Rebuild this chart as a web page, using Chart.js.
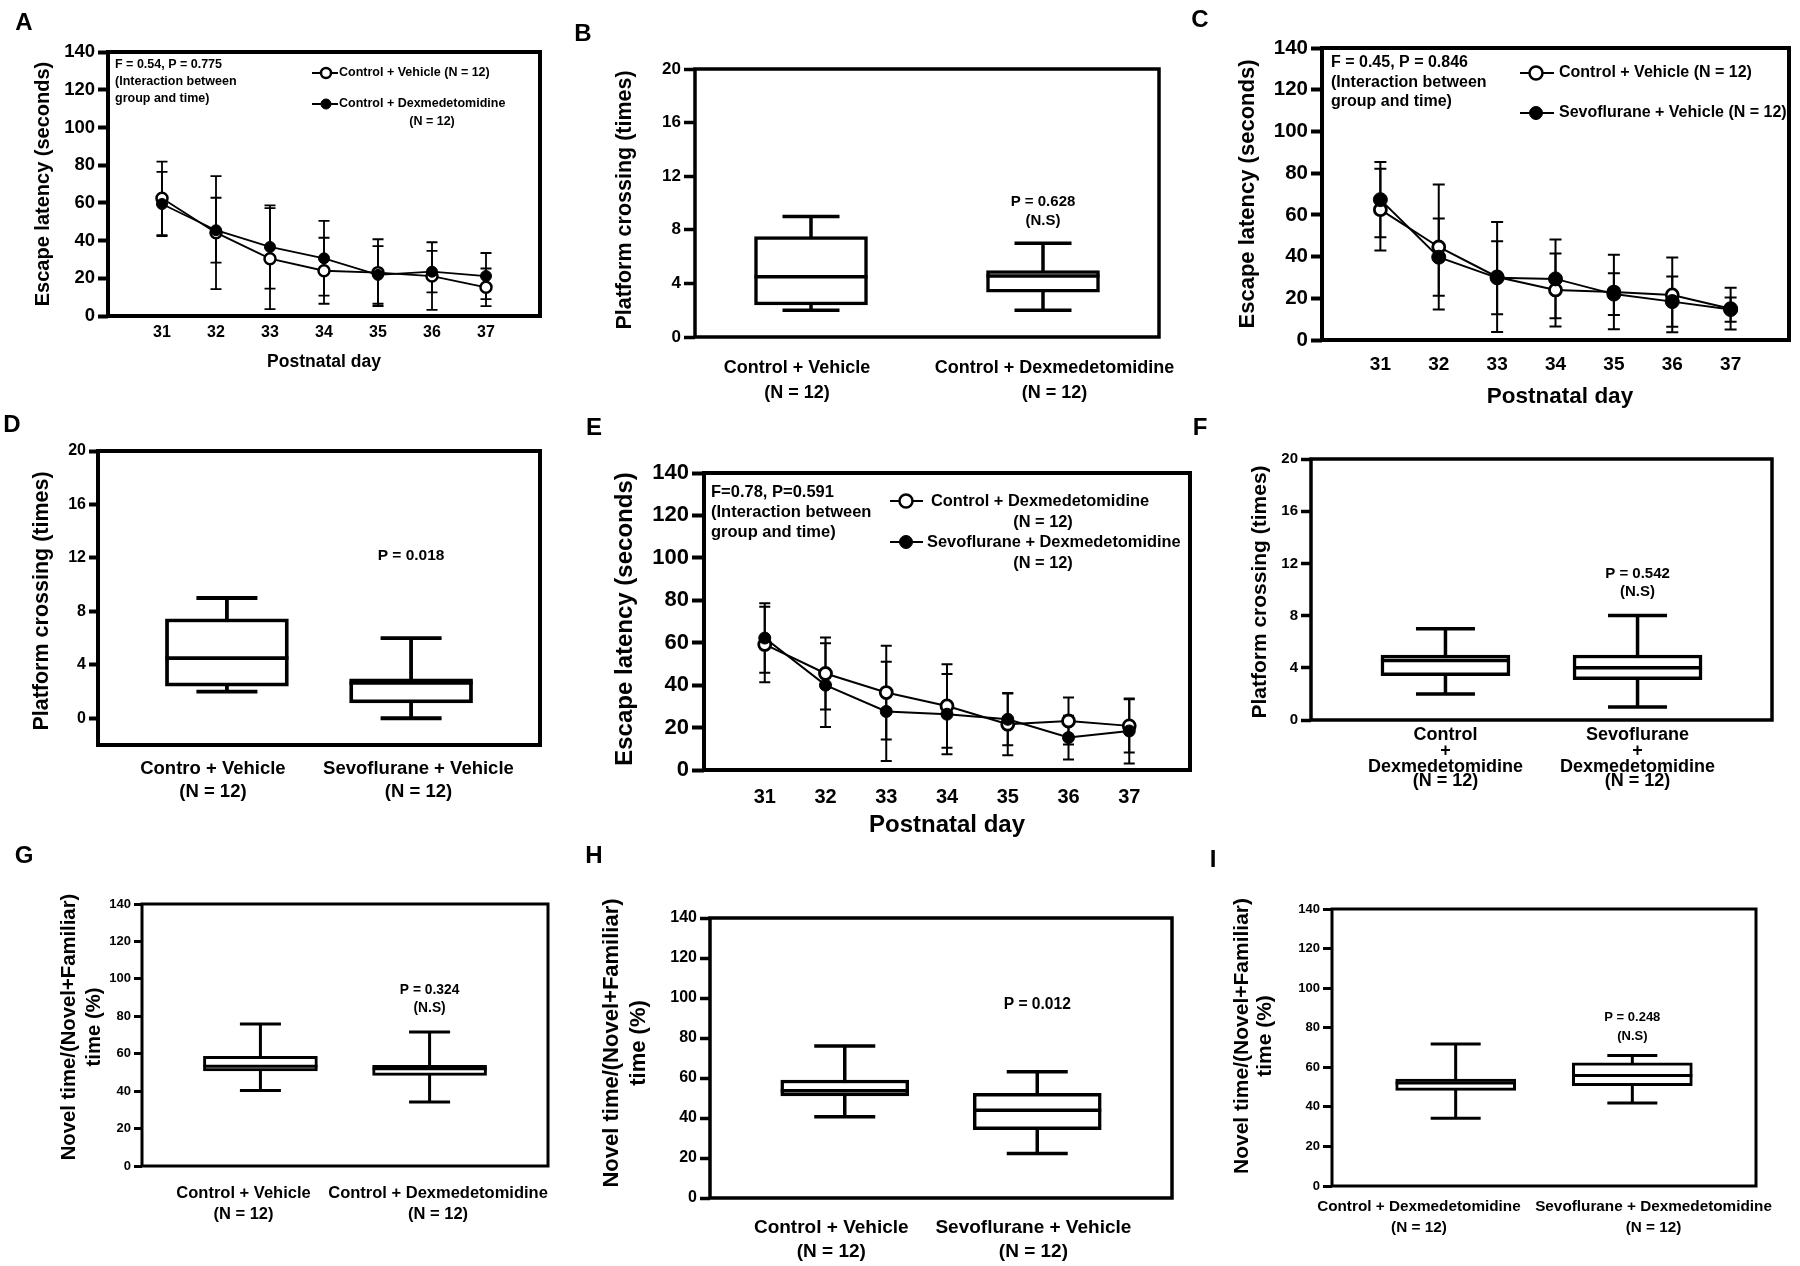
<!DOCTYPE html>
<html>
<head>
  <meta charset="utf-8">
  <title>Water maze and novel object tests</title>
  <script src="https://cdn.jsdelivr.net/npm/chart.js@4.4.1/dist/chart.umd.min.js"></script>
  <style>
    body { margin: 0; background: #fff; }
    #page { position: relative; width: 1800px; height: 1266px; overflow: hidden; background: #fff; }
    #page canvas { position: absolute; left: 0; top: 0; }
  </style>
</head>
<body>
<div id="page">
  <canvas id="cA" width="1800" height="1266"></canvas>
  <canvas id="cB" width="1800" height="1266"></canvas>
  <canvas id="cC" width="1800" height="1266"></canvas>
  <canvas id="cD" width="1800" height="1266"></canvas>
  <canvas id="cE" width="1800" height="1266"></canvas>
  <canvas id="cF" width="1800" height="1266"></canvas>
  <canvas id="cG" width="1800" height="1266"></canvas>
  <canvas id="cH" width="1800" height="1266"></canvas>
  <canvas id="cI" width="1800" height="1266"></canvas>
</div>

<script>
  // ---- data ----
  const days = [31, 32, 33, 34, 35, 36, 37];
  const latencyTicks = [0, 20, 40, 60, 80, 100, 120, 140];
  const crossingTicks = [0, 4, 8, 12, 16, 20];
  const novelTicks = [0, 20, 40, 60, 80, 100, 120, 140];

  // A: control + vehicle vs control + dexmedetomidine (mean, SD)
  const aVehMean = [62.4, 44.2, 30.4, 24.0, 23.0, 21.2, 15.2];
  const aVehSd   = [19.5, 30.0, 26.8, 17.5, 17.7, 17.9, 10.0];
  const aDexMean = [59.4, 45.5, 36.6, 30.6, 21.8, 23.5, 21.2];
  const aDexSd   = [17.0, 17.2, 22.1, 19.8, 15.3, 11.0, 12.2];

  // C: control + vehicle vs sevoflurane + vehicle
  const cVehMean = [62.5, 44.6, 30.2, 24.0, 23.0, 21.6, 15.0];
  const cVehSd   = [19.6, 30.0, 26.4, 17.5, 17.9, 17.9, 10.0];
  const cSevMean = [67.3, 39.7, 29.8, 29.3, 22.0, 18.4, 14.6];
  const cSevSd   = [18.0, 18.5, 17.5, 18.9, 10.0, 12.0, 5.8];

  // E: control + dexmedetomidine vs sevoflurane + dexmedetomidine
  const eDexMean    = [59.2, 45.5, 36.5, 30.2, 21.6, 23.1, 20.8];
  const eDexSd      = [17.8, 17.0, 22.1, 19.7, 14.7, 11.1, 12.6];
  const eSevDexMean = [62.2, 40.0, 27.6, 26.3, 23.9, 15.3, 18.4];
  const eSevDexSd   = [16.4, 19.7, 23.4, 18.9, 12.2, 10.3, 15.3];

  // box plots: min, Q1, median, Q3, max
  const bGroups = ['Control + Vehicle', 'Control + Dexmedetomidine'];
  const bMin = [2, 2], bQ1 = [2.4, 3.35], bMed = [4.5, 4.55], bQ3 = [7.5, 4.95], bMax = [9, 7];

  const dGroups = ['Contro + Vehicle', 'Sevoflurane + Vehicle'];
  const dMin = [2, 0], dQ1 = [2.4, 1.15], dMed = [4.5, 2.65], dQ3 = [7.45, 2.95], dMax = [9, 6];

  const fGroups = [['Control', '+', 'Dexmedetomidine'], ['Sevoflurane', '+', 'Dexmedetomidine']];
  const fMin = [2, 1], fQ1 = [3.4, 3.1], fMed = [4.55, 4.0], fQ3 = [4.98, 4.98], fMax = [7, 8];

  const gGroups = ['Control + Vehicle', 'Control + Dexmedetomidine'];
  const gMin = [40.4, 34.2], gQ1 = [50.8, 48.4], gMed = [53.3, 52.0], gQ3 = [58.6, 53.8], gMax = [75.9, 71.6];

  const hGroups = ['Control + Vehicle', 'Sevoflurane + Vehicle'];
  const hMin = [40.6, 22.2], hQ1 = [51.0, 34.2], hMed = [53.6, 43.9], hQ3 = [59.0, 52.3], hMax = [76.0, 63.1];

  const iGroups = ['Control + Dexmedetomidine', 'Sevoflurane + Dexmedetomidine'];
  const iMin = [34.2, 41.9], iQ1 = [48.3, 50.7], iMed = [52.1, 55.8], iQ3 = [54.1, 62.2], iMax = [71.8, 65.9];

  const nLabel = '(N = 12)';

  // ---- drawing helpers ----
  const FONT = "'Liberation Sans', Arial, Helvetica, sans-serif";
  const W = 1800, H = 1266;
  const Y_BOX = 70, X_BOX = 60;   // room kept for the tick labels
  const decoById = {};

  function say(ctx, s, x, y, size, align, rot) {
    ctx.save();
    ctx.translate(x, y);
    if (rot) ctx.rotate(rot);
    ctx.font = 'bold ' + size + 'px ' + FONT;
    ctx.textAlign = align || 'center';
    ctx.textBaseline = 'middle';
    ctx.fillStyle = '#000';
    ctx.fillText(s, 0, 0);
    ctx.restore();
  }

  function dot(ctx, x, y, r, filled, lw) {
    ctx.beginPath();
    ctx.arc(x, y, r, 0, Math.PI * 2);
    ctx.fillStyle = filled ? '#000' : '#fff';
    ctx.fill();
    ctx.lineWidth = lw;
    ctx.strokeStyle = '#000';
    ctx.stroke();
  }

  const deco = {
    id: 'deco',
    beforeDatasetsDraw(chart) {
      const o = decoById[chart.canvas.id];
      const ctx = chart.ctx, sx = chart.scales.x, sy = chart.scales.y;
      ctx.save();
      ctx.strokeStyle = '#000';
      (o.errors || []).forEach(e => {
        ctx.lineWidth = e.lw;
        e.mean.forEach((m, i) => {
          const px = sx.getPixelForValue(days[i]);
          const hi = sy.getPixelForValue(m + e.sd[i]);
          const lo = sy.getPixelForValue(m - e.sd[i]);
          ctx.beginPath();
          ctx.moveTo(px, hi); ctx.lineTo(px, lo);
          ctx.moveTo(px - e.cap, hi); ctx.lineTo(px + e.cap, hi);
          ctx.moveTo(px - e.cap, lo); ctx.lineTo(px + e.cap, lo);
          ctx.stroke();
        });
      });
      if (o.box) {
        const b = o.box;
        ctx.lineWidth = b.lw;
        b.min.forEach((mn, i) => {
          const px = sx.getPixelForValue(i);
          const top = sy.getPixelForValue(b.max[i]), bot = sy.getPixelForValue(mn);
          ctx.beginPath();
          ctx.moveTo(px, top); ctx.lineTo(px, bot);
          ctx.moveTo(px - b.cap / 2, top); ctx.lineTo(px + b.cap / 2, top);
          ctx.moveTo(px - b.cap / 2, bot); ctx.lineTo(px + b.cap / 2, bot);
          ctx.stroke();
        });
      }
      ctx.restore();
    },
    afterDatasetsDraw(chart) {
      const o = decoById[chart.canvas.id];
      if (!o.box) return;
      const ctx = chart.ctx, sx = chart.scales.x, sy = chart.scales.y, b = o.box;
      ctx.save();
      ctx.strokeStyle = '#000';
      ctx.lineWidth = b.lw;
      b.med.forEach((m, i) => {
        const px = sx.getPixelForValue(i), py = sy.getPixelForValue(m);
        ctx.beginPath();
        ctx.moveTo(px - b.width / 2, py); ctx.lineTo(px + b.width / 2, py);
        ctx.stroke();
      });
      ctx.restore();
    },
    afterDraw(chart) {
      const o = decoById[chart.canvas.id];
      const ctx = chart.ctx, a = chart.chartArea, sx = chart.scales.x, sy = chart.scales.y;
      ctx.save();
      ctx.strokeStyle = '#000';
      ctx.lineWidth = o.frameW;
      ctx.strokeRect(a.left, a.top, a.right - a.left, a.bottom - a.top);

      say(ctx, o.letter[0], o.letter[1], o.letter[2], 24, 'center');
      o.yTitle.lines.forEach((s, k) => say(ctx, s, o.yTitle.x[k], o.yTitle.y, o.yTitle.size, 'center', -Math.PI / 2));
      if (o.xTitle) say(ctx, o.xTitle[0], o.xTitle[1], o.xTitle[2], o.xTitle[3], 'center');
      (o.texts || []).forEach(t => say(ctx, t[0], t[1], t[2], t[3], t[4] || 'left'));
      (o.dataTexts || []).forEach(t => say(ctx, t[0], sx.getPixelForValue(t[1]), sy.getPixelForValue(t[2]), t[3], 'center'));
      (o.legend || []).forEach(l => {
        ctx.lineWidth = 2;
        ctx.strokeStyle = '#000';
        ctx.beginPath(); ctx.moveTo(l.x1, l.y); ctx.lineTo(l.x2, l.y); ctx.stroke();
        dot(ctx, l.mx, l.y, l.r, l.filled, l.filled ? 1 : 2.5);
        say(ctx, l.text, l.tx, l.y, l.size, 'left');
      });
      if (o.cats) {
        o.cats.lines.forEach((lines, i) => {
          const px = sx.getPixelForValue(o.cats.x[i]);
          lines.forEach((s, k) => say(ctx, s, px, o.cats.y[k], o.cats.size, 'center'));
        });
      }
      ctx.restore();
    }
  };
  Chart.register(deco);

  function baseOptions(frame, yMin, yMax, yTicks, yFont, tickLen, frameW) {
    return {
      responsive: false, animation: false, events: [],
      layout: { padding: { left: frame[0] - Y_BOX, top: frame[1], right: W - frame[2], bottom: H - frame[3] } },
      plugins: { legend: { display: false }, tooltip: { enabled: false } },
      scales: {
        y: {
          min: yMin, max: yMax,
          afterFit: s => { s.width = Y_BOX; },
          afterBuildTicks: s => { s.ticks = yTicks.map(v => ({ value: v })); },
          grid: { drawOnChartArea: false, tickLength: tickLen, tickWidth: frameW, tickColor: '#000', color: '#000' },
          border: { display: false },
          ticks: { color: '#000', padding: 3, autoSkip: false, font: { family: FONT, size: yFont, weight: 'bold' } }
        }
      }
    };
  }

  function linePanel(id, frame, s) {
    const opts = baseOptions(frame, 0, 140, latencyTicks, s.yFont, s.tickLen, s.frameW);
    opts.layout.padding.bottom = H - frame[3] - X_BOX;
    opts.scales.x = {
      type: 'linear', min: 30, max: 38, offset: false,
      afterFit: sc => { sc.height = X_BOX; },
      afterBuildTicks: sc => { sc.ticks = days.map(v => ({ value: v })); },
      grid: { display: false, drawTicks: false },
      border: { display: false },
      ticks: { color: '#000', padding: s.xPad, autoSkip: false, maxRotation: 0, font: { family: FONT, size: s.xFont, weight: 'bold' } }
    };
    const mk = (mean, filled) => ({
      data: days.map((d, i) => ({ x: d, y: mean[i] })),
      borderColor: '#000', borderWidth: s.lineW, tension: 0,
      pointRadius: filled ? s.rf : s.r, pointBackgroundColor: filled ? '#000' : '#fff',
      pointBorderColor: '#000', pointBorderWidth: filled ? 1 : s.ring
    });
    decoById[id] = s.deco;
    return new Chart(document.getElementById(id), {
      type: 'line',
      data: { datasets: [mk(s.fillMean, true), mk(s.openMean, false)] },
      options: opts
    });
  }

  function boxPanel(id, frame, s) {
    const opts = baseOptions(frame, s.yMin, s.yMax, s.yTicks, s.yFont, s.tickLen, s.frameW);
    opts.scales.x = { type: 'linear', display: false, offset: false, min: s.xRange[0], max: s.xRange[1] };
    s.deco.box = { min: s.min, med: s.med, max: s.max, lw: s.lw, cap: s.cap, width: s.boxW };
    decoById[id] = s.deco;
    return new Chart(document.getElementById(id), {
      type: 'bar',
      data: { datasets: [{
        data: s.q1.map((q, i) => ({ x: i, y: [q, s.q3[i]] })),
        backgroundColor: '#fff', borderColor: '#000', borderWidth: s.lw,
        borderSkipped: false, barThickness: s.boxW
      }] },
      options: opts
    });
  }

  const latTitle = ['Escape latency (seconds)'];
  const crossTitle = ['Platform crossing (times)'];
  const novelTitle = ['Novel time/(Novel+Familiar)', 'time (%)'];
  const interaction = ['(Interaction between', 'group and time)'];

  // ---- A ----
  linePanel('cA', [108, 52, 540, 316], {
    openMean: aVehMean, fillMean: aDexMean, yFont: 18.5, xFont: 16, xPad: 7, tickLen: 10, frameW: 4,
    lineW: 1.8, r: 5.5, rf: 5.5, ring: 2.5,
    deco: {
      frameW: 4, letter: ['A', 24, 23],
      yTitle: { lines: latTitle, x: [43], y: 184, size: 20 },
      xTitle: ['Postnatal day', 324, 362, 17.5],
      texts: [['F = 0.54, P = 0.775', 115, 65, 12.5], [interaction[0], 115, 82, 12.5], [interaction[1], 115, 99, 12.5],
              [nLabel, 432, 122, 12.5, 'center']],
      legend: [
        { x1: 312, x2: 338, mx: 326, y: 73, r: 5, filled: false, text: 'Control + Vehicle (N = 12)', tx: 339, size: 12.5 },
        { x1: 312, x2: 338, mx: 326, y: 104, r: 5, filled: true, text: 'Control + Dexmedetomidine', tx: 339, size: 12.5 }
      ],
      errors: [{ mean: aVehMean, sd: aVehSd, lw: 1.8, cap: 5.5 }, { mean: aDexMean, sd: aDexSd, lw: 1.8, cap: 5.5 }]
    }
  });

  // ---- C ----
  linePanel('cC', [1322, 48, 1789, 340], {
    openMean: cVehMean, fillMean: cSevMean, yFont: 20.5, xFont: 19, xPad: 13, tickLen: 11, frameW: 4,
    lineW: 2, r: 6, rf: 7, ring: 2.8,
    deco: {
      frameW: 4, letter: ['C', 1200, 20],
      yTitle: { lines: latTitle, x: [1248], y: 194, size: 22 },
      xTitle: ['Postnatal day', 1560, 397, 22.5],
      texts: [['F = 0.45, P = 0.846', 1331, 63, 16], [interaction[0], 1331, 83, 16], [interaction[1], 1331, 102, 16]],
      legend: [
        { x1: 1520, x2: 1554, mx: 1536, y: 73, r: 6.5, filled: false, text: 'Control + Vehicle (N = 12)', tx: 1559, size: 16 },
        { x1: 1520, x2: 1554, mx: 1536, y: 113, r: 6.5, filled: true, text: 'Sevoflurane + Vehicle (N = 12)', tx: 1559, size: 16 }
      ],
      errors: [{ mean: cVehMean, sd: cVehSd, lw: 2, cap: 6 }, { mean: cSevMean, sd: cSevSd, lw: 2, cap: 6 }]
    }
  });

  // ---- E ----
  linePanel('cE', [704, 473, 1190, 770], {
    openMean: eDexMean, fillMean: eSevDexMean, yFont: 22, xFont: 20, xPad: 15, tickLen: 12, frameW: 4,
    lineW: 2, r: 6, rf: 6, ring: 2.8,
    deco: {
      frameW: 4, letter: ['E', 594, 428],
      yTitle: { lines: latTitle, x: [625], y: 619, size: 24 },
      xTitle: ['Postnatal day', 947, 825, 24],
      texts: [['F=0.78, P=0.591', 711, 492, 16.5], [interaction[0], 711, 512, 16.5], [interaction[1], 711, 532, 16.5],
              [nLabel, 1043, 522, 16.4, 'center'], [nLabel, 1043, 563, 16.4, 'center']],
      legend: [
        { x1: 890, x2: 923, mx: 906, y: 501, r: 6.5, filled: false, text: 'Control + Dexmedetomidine', tx: 931, size: 16.4 },
        { x1: 890, x2: 923, mx: 906, y: 542, r: 6.5, filled: true, text: 'Sevoflurane + Dexmedetomidine', tx: 927, size: 16.4 }
      ],
      errors: [{ mean: eDexMean, sd: eDexSd, lw: 2, cap: 5.5 }, { mean: eSevDexMean, sd: eSevDexSd, lw: 2, cap: 5.5 }]
    }
  });

  // ---- B ----
  boxPanel('cB', [695, 69, 1159, 337], {
    yMin: 0, yMax: 20, yTicks: crossingTicks, yFont: 17, tickLen: 11, frameW: 3.5, xRange: [-0.5, 1.5],
    min: bMin, q1: bQ1, med: bMed, q3: bQ3, max: bMax, lw: 3.5, cap: 57, boxW: 113,
    deco: {
      frameW: 3.5, letter: ['B', 583, 34],
      yTitle: { lines: crossTitle, x: [625], y: 200, size: 21.5 },
      dataTexts: [['P = 0.628', 1, 10.1, 15], ['(N.S)', 1, 8.7, 15]],
      cats: { lines: [[bGroups[0], nLabel], [bGroups[1], nLabel]], x: [-0.06, 1.05], y: [368, 393], size: 18 }
    }
  });

  // ---- D ----
  boxPanel('cD', [98, 451, 540, 745], {
    yMin: -2, yMax: 20, yTicks: crossingTicks, yFont: 16, tickLen: 9, frameW: 4, xRange: [-0.7, 1.7],
    min: dMin, q1: dQ1, med: dMed, q3: dQ3, max: dMax, lw: 3.8, cap: 61, boxW: 123,
    deco: {
      frameW: 4, letter: ['D', 12, 425],
      yTitle: { lines: crossTitle, x: [42], y: 601, size: 21.5 },
      dataTexts: [['P = 0.018', 1, 12.2, 15.5]],
      cats: { lines: [[dGroups[0], nLabel], [dGroups[1], nLabel]], x: [-0.076, 1.04], y: [769, 792], size: 18.5 }
    }
  });

  // ---- F ----
  boxPanel('cF', [1311, 459, 1772, 720], {
    yMin: 0, yMax: 20, yTicks: crossingTicks, yFont: 15, tickLen: 10, frameW: 3.5, xRange: [-0.7, 1.7],
    min: fMin, q1: fQ1, med: fMed, q3: fQ3, max: fMax, lw: 3.5, cap: 59, boxW: 129,
    deco: {
      frameW: 3.5, letter: ['F', 1200, 428],
      yTitle: { lines: crossTitle, x: [1260], y: 592, size: 21 },
      dataTexts: [['P = 0.542', 1, 11.2, 15], ['(N.S)', 1, 9.8, 15]],
      cats: { lines: [fGroups[0].concat(nLabel), fGroups[1].concat(nLabel)], x: [0, 1], y: [735, 751, 767, 781], size: 18 }
    }
  });

  // ---- G ----
  boxPanel('cG', [142, 904, 548, 1166], {
    yMin: 0, yMax: 140, yTicks: novelTicks, yFont: 13, tickLen: 8, frameW: 3, xRange: [-0.7, 1.7],
    min: gMin, q1: gQ1, med: gMed, q3: gQ3, max: gMax, lw: 3, cap: 41, boxW: 114,
    deco: {
      frameW: 3, letter: ['G', 24, 856],
      yTitle: { lines: novelTitle, x: [69, 94], y: 1027, size: 20.3 },
      dataTexts: [['P = 0.324', 1, 94, 13.8], ['(N.S)', 1, 84.4, 13.8]],
      cats: { lines: [[gGroups[0], nLabel], [gGroups[1], nLabel]], x: [-0.1, 1.05], y: [1193, 1214], size: 16.5 }
    }
  });

  // ---- H ----
  boxPanel('cH', [710, 918, 1172, 1198], {
    yMin: 0, yMax: 140, yTicks: novelTicks, yFont: 16, tickLen: 10, frameW: 3.5, xRange: [-0.7, 1.7],
    min: hMin, q1: hQ1, med: hMed, q3: hQ3, max: hMax, lw: 3.5, cap: 61, boxW: 128,
    deco: {
      frameW: 3.5, letter: ['H', 594, 856],
      yTitle: { lines: novelTitle, x: [612, 639], y: 1043, size: 22 },
      dataTexts: [['P = 0.012', 1, 96.9, 15.6]],
      cats: { lines: [[hGroups[0], nLabel], [hGroups[1], nLabel]], x: [-0.07, 0.98], y: [1228, 1252], size: 19 }
    }
  });

  // ---- I ----
  boxPanel('cI', [1332, 909, 1756, 1186], {
    yMin: 0, yMax: 140, yTicks: novelTicks, yFont: 13, tickLen: 9, frameW: 3, xRange: [-0.7, 1.7],
    min: iMin, q1: iQ1, med: iMed, q3: iQ3, max: iMax, lw: 3, cap: 50, boxW: 120,
    deco: {
      frameW: 3, letter: ['I', 1213, 860],
      yTitle: { lines: novelTitle, x: [1242, 1265], y: 1036, size: 21 },
      dataTexts: [['P = 0.248', 1, 85.2, 13], ['(N.S)', 1, 75.6, 13]],
      cats: { lines: [[iGroups[0], nLabel], [iGroups[1], nLabel]], x: [-0.208, 1.12], y: [1207, 1228], size: 15.3 }
    }
  });
</script>
</body>
</html>
